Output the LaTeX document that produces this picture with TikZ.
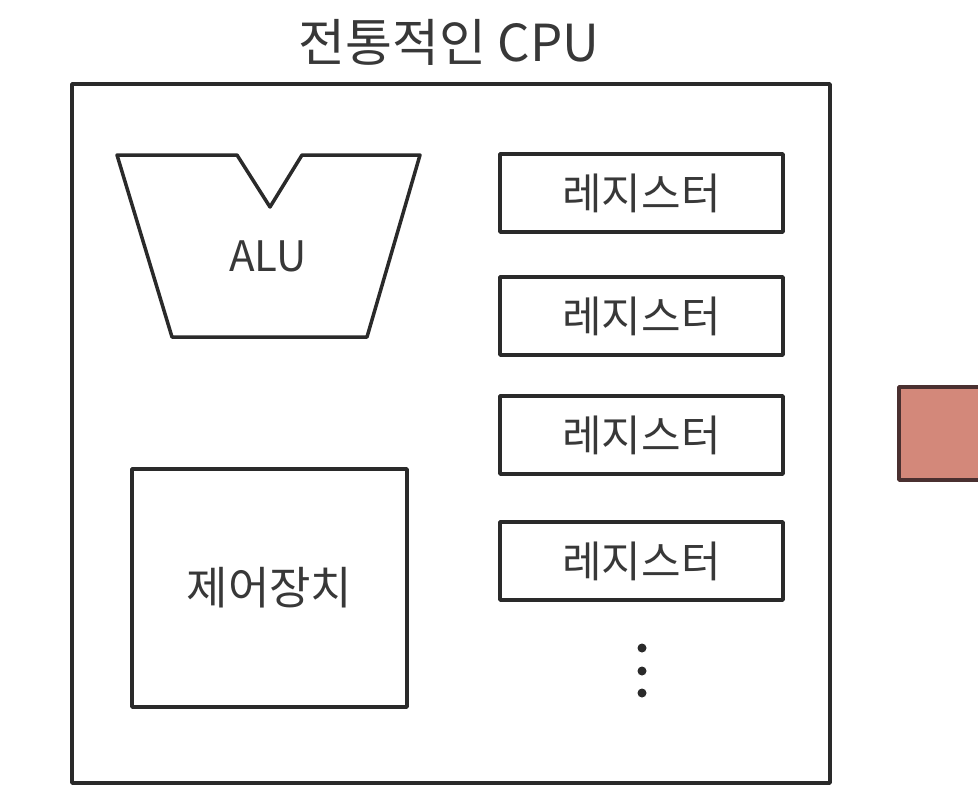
\documentclass[tikz,border=0pt]{standalone}
\usepackage{fontspec}
\setmainfont{Noto Sans CJK KR}
\definecolor{ink}{HTML}{2A2A2A}
\definecolor{txt}{HTML}{383838}
\definecolor{redfill}{HTML}{D3887A}
\definecolor{redline}{HTML}{4A3030}
\begin{document}
\begin{tikzpicture}[x=1pt,y=-1pt,
  line join=round,
  boxline/.style={draw=ink,line width=3.5pt},
  regbox/.style={boxline,minimum width=283pt,minimum height=78pt,inner sep=0pt,
     font=\fontsize{43}{46}\selectfont,text=txt},
  dotmark/.style={circle,fill=ink,inner sep=0pt,minimum size=9pt}]
\useasboundingbox (0,0) rectangle (978,796);
\fill[white] (0,0) rectangle (978,796);
% title
\node[font=\fontsize{51}{56}\selectfont,text=txt] (title) at (449,42) {전통적인 CPU};
% outer CPU box
\node[boxline,minimum width=758pt,minimum height=699pt,inner sep=0pt] (cpu) at (451,433.5) {};
% ALU
\draw[boxline] (117,155) -- (237,155) -- (270,207) -- (302,155) -- (420,155)
   -- (367,337) -- (172,337) -- cycle;
\node[font=\fontsize{42}{46}\selectfont,text=txt] (alu) at (268,256) {ALU};
% control unit
\node[boxline,minimum width=275pt,minimum height=238pt,inner sep=0pt,
   font=\fontsize{45}{48}\selectfont,text=txt] (ctrl) at (269.5,588) {제어장치};
% registers
\node[regbox] (r1) at (641.5,193) {레지스터};
\node[regbox] (r2) at (641.5,316) {레지스터};
\node[regbox] (r3) at (641.5,435) {레지스터};
\node[regbox] (r4) at (641.5,561) {레지스터};
% dots
\node[dotmark] (d1) at (642,648) {};
\node[dotmark] (d2) at (642,671) {};
\node[dotmark] (d3) at (642,693) {};
% partial red box at right edge
\draw[fill=redfill,draw=redline,line width=3.5pt] (1000,387) -- (899,387) -- (899,480) -- (1000,480);
\end{tikzpicture}
\end{document}
